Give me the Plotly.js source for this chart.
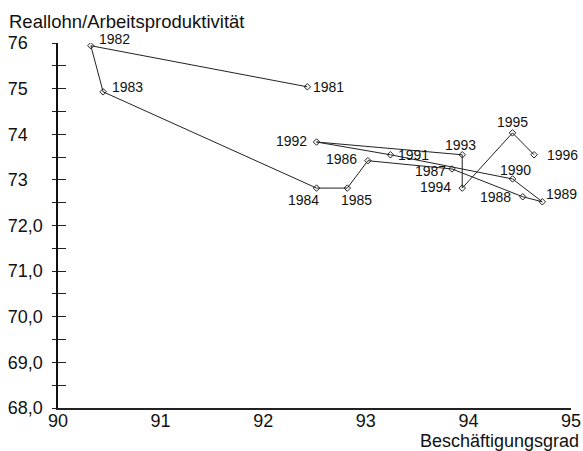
<!DOCTYPE html>
<html><head><meta charset="utf-8">
<script src="https://cdn.plot.ly/plotly-3.0.1.min.js"></script>
<style>html,body{margin:0;padding:0;background:#fff}#chart{width:583px;height:451px}</style>
</head><body><div id="chart"></div>
<script>
const years = ["1981","1982","1983","1984","1985","1986","1987","1988","1989","1990","1991","1992","1993","1994","1995","1996"];
const beschaeftigung = [92.43,90.32,90.44,92.52,92.82,93.02,93.84,94.53,94.72,94.43,93.24,92.52,93.94,93.94,94.43,94.64];
const reallohn = [75.04,75.94,74.93,72.82,72.82,73.42,73.24,72.63,72.52,73.02,73.55,73.83,73.55,72.82,74.03,73.55];
const yTickVals = [68,68.5,69,69.5,70,70.5,71,71.5,72,72.5,73,73.5,74,74.5,75,75.5,76];
const yTickText = ["68,0","","69,0","","70,0","","71,0","","72,0","","73","","74","","75","","76"];
const xTickVals = [90,91,92,93,94,95];
const xTickText = ["90","91","92","93","94","95"];

// label placement (style only)
const lab = {
 "1981":{xa:"left",xs:4,ys:0},
 "1982":{xa:"left",xs:6,ys:7},
 "1983":{xa:"left",xs:7,ys:5},
 "1984":{xa:"center",xs:-13,ys:-12},
 "1985":{xa:"center",xs:9,ys:-12},
 "1986":{xa:"right",xs:-9,ys:2},
 "1987":{xa:"right",xs:-4,ys:-2},
 "1988":{xa:"right",xs:-10,ys:0},
 "1989":{xa:"left",xs:2,ys:8},
 "1990":{xa:"center",xs:3,ys:9},
 "1991":{xa:"left",xs:6,ys:0},
 "1992":{xa:"right",xs:-8,ys:1},
 "1993":{xa:"center",xs:-2,ys:10},
 "1994":{xa:"right",xs:-9,ys:1},
 "1995":{xa:"center",xs:0,ys:11},
 "1996":{xa:"left",xs:11,ys:0}
};
const FONT = "Liberation Sans, Arial, Helvetica, sans-serif";
const annotations = years.map((yr,i)=>({
  x: beschaeftigung[i], y: reallohn[i], xref:"x", yref:"y", text: yr, showarrow:false,
  xanchor: lab[yr].xa, yanchor:"middle", xshift: lab[yr].xs, yshift: lab[yr].ys,
  font:{family:FONT,size:14,color:"#111"}
}));
annotations.push({xref:"paper",yref:"paper",x:-0.099,y:1.06,xanchor:"left",yanchor:"middle",
  text:"Reallohn/Arbeitsproduktivität",showarrow:false,font:{family:FONT,size:18.5,color:"#111"}});
annotations.push({xref:"paper",yref:"paper",x:1.02,y:-0.09,xanchor:"right",yanchor:"middle",
  text:"Beschäftigungsgrad",showarrow:false,font:{family:FONT,size:18,color:"#111"}});

const trace = {
  x: beschaeftigung, y: reallohn, type:"scatter", mode:"lines+markers",
  line:{color:"#222",width:1},
  marker:{symbol:"diamond-open",size:5,color:"#222",line:{width:1}},
  hoverinfo:"skip", showlegend:false
};
const dummy = {x:[90],y:[68],yaxis:"y2",mode:"markers",marker:{opacity:0},showlegend:false,hoverinfo:"skip"};

const layout = {
  width:583,height:451,
  margin:{l:58,r:12,t:43,b:43},
  paper_bgcolor:"#fff",plot_bgcolor:"#fff",
  font:{family:FONT,color:"#111"},
  xaxis:{range:[90,95],tickmode:"array",tickvals:xTickVals,ticktext:xTickText,
    showgrid:false,zeroline:false,showline:true,linecolor:"#222",linewidth:1.5,
    ticks:"",ticklabelstandoff:-4,tickfont:{size:18,family:FONT,color:"#111"}},
  yaxis:{range:[68,76],tickmode:"array",tickvals:yTickVals,
    ticktext:yTickText.map(t=>t.length===2? t+"\u00a0\u00a0\u00a0":t),
    showgrid:false,zeroline:false,showline:true,linecolor:"#111",linewidth:2.5,
    ticks:"outside",ticklen:4,tickwidth:1,tickcolor:"#222",ticklabelstandoff:5,
    tickfont:{size:18,family:FONT,color:"#111"}},
  yaxis2:{range:[68,76],overlaying:"y",side:"left",anchor:"x",tickmode:"array",tickvals:yTickVals,
    showticklabels:false,showgrid:false,zeroline:false,showline:false,
    ticks:"inside",ticklen:8,tickwidth:1,tickcolor:"#222"},
  annotations: annotations
};
Plotly.newPlot("chart",[trace,dummy],layout,{staticPlot:true,displayModeBar:false});
</script></body></html>
